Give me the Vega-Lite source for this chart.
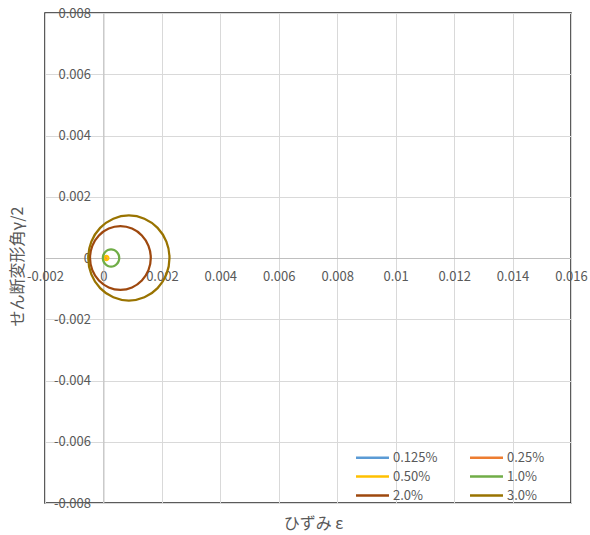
{
  "$schema": "https://vega.github.io/schema/vega-lite/v6.json",
  "width": 526,
  "height": 490,
  "autosize": "none",
  "padding": {"left": 45, "top": 13, "right": 19, "bottom": 32},
  "background": "white",
  "config": {
    "view": {"stroke": "#262626", "strokeWidth": 1.5},
    "font": "Noto Sans CJK JP"
  },
  "data": {"values": [
    {"s":"0.125%","k":0,"x":0.00004,"y":0},
    {"s":"0.125%","k":1,"x":0.000036,"y":0.000011},
    {"s":"0.125%","k":2,"x":0.000025,"y":0.000015},
    {"s":"0.125%","k":3,"x":0.000014,"y":0.000011},
    {"s":"0.125%","k":4,"x":0.00001,"y":0},
    {"s":"0.125%","k":5,"x":0.000014,"y":-0.000011},
    {"s":"0.125%","k":6,"x":0.000025,"y":-0.000015},
    {"s":"0.125%","k":7,"x":0.000036,"y":-0.000011},
    {"s":"0.25%","k":0,"x":0.00008,"y":0},
    {"s":"0.25%","k":1,"x":0.000071,"y":0.000021},
    {"s":"0.25%","k":2,"x":0.00005,"y":0.00003},
    {"s":"0.25%","k":3,"x":0.000029,"y":0.000021},
    {"s":"0.25%","k":4,"x":0.00002,"y":0},
    {"s":"0.25%","k":5,"x":0.000029,"y":-0.000021},
    {"s":"0.25%","k":6,"x":0.00005,"y":-0.00003},
    {"s":"0.25%","k":7,"x":0.000071,"y":-0.000021},
    {"s":"0.50%","k":0,"x":0.00017,"y":0},
    {"s":"0.50%","k":1,"x":0.000149,"y":0.000049},
    {"s":"0.50%","k":2,"x":0.0001,"y":0.00007},
    {"s":"0.50%","k":3,"x":0.000051,"y":0.000049},
    {"s":"0.50%","k":4,"x":0.00003,"y":0},
    {"s":"0.50%","k":5,"x":0.000051,"y":-0.000049},
    {"s":"0.50%","k":6,"x":0.0001,"y":-0.00007},
    {"s":"0.50%","k":7,"x":0.000149,"y":-0.000049},
    {"s":"1.0%","k":0,"x":0.00054,"y":0},
    {"s":"1.0%","k":1,"x":0.000519,"y":0.000107},
    {"s":"1.0%","k":2,"x":0.000458,"y":0.000198},
    {"s":"1.0%","k":3,"x":0.000367,"y":0.000259},
    {"s":"1.0%","k":4,"x":0.00026,"y":0.00028},
    {"s":"1.0%","k":5,"x":0.000153,"y":0.000259},
    {"s":"1.0%","k":6,"x":0.000062,"y":0.000198},
    {"s":"1.0%","k":7,"x":0.000001,"y":0.000107},
    {"s":"1.0%","k":8,"x":-0.00002,"y":0},
    {"s":"1.0%","k":9,"x":0.000001,"y":-0.000107},
    {"s":"1.0%","k":10,"x":0.000062,"y":-0.000198},
    {"s":"1.0%","k":11,"x":0.000153,"y":-0.000259},
    {"s":"1.0%","k":12,"x":0.00026,"y":-0.00028},
    {"s":"1.0%","k":13,"x":0.000367,"y":-0.000259},
    {"s":"1.0%","k":14,"x":0.000458,"y":-0.000198},
    {"s":"1.0%","k":15,"x":0.000519,"y":-0.000107},
    {"s":"2.0%","k":0,"x":0.00162,"y":0},
    {"s":"2.0%","k":1,"x":0.001541,"y":0.000398},
    {"s":"2.0%","k":2,"x":0.001315,"y":0.000735},
    {"s":"2.0%","k":3,"x":0.000978,"y":0.000961},
    {"s":"2.0%","k":4,"x":0.00058,"y":0.00104},
    {"s":"2.0%","k":5,"x":0.000182,"y":0.000961},
    {"s":"2.0%","k":6,"x":-0.000155,"y":0.000735},
    {"s":"2.0%","k":7,"x":-0.000381,"y":0.000398},
    {"s":"2.0%","k":8,"x":-0.00046,"y":0},
    {"s":"2.0%","k":9,"x":-0.000381,"y":-0.000398},
    {"s":"2.0%","k":10,"x":-0.000155,"y":-0.000735},
    {"s":"2.0%","k":11,"x":0.000182,"y":-0.000961},
    {"s":"2.0%","k":12,"x":0.00058,"y":-0.00104},
    {"s":"2.0%","k":13,"x":0.000978,"y":-0.000961},
    {"s":"2.0%","k":14,"x":0.001315,"y":-0.000735},
    {"s":"2.0%","k":15,"x":0.001541,"y":-0.000398},
    {"s":"3.0%","k":0,"x":0.00226,"y":0},
    {"s":"3.0%","k":1,"x":0.002154,"y":0.000532},
    {"s":"3.0%","k":2,"x":0.001853,"y":0.000983},
    {"s":"3.0%","k":3,"x":0.001402,"y":0.001284},
    {"s":"3.0%","k":4,"x":0.00087,"y":0.00139},
    {"s":"3.0%","k":5,"x":0.000338,"y":0.001284},
    {"s":"3.0%","k":6,"x":-0.000113,"y":0.000983},
    {"s":"3.0%","k":7,"x":-0.000414,"y":0.000532},
    {"s":"3.0%","k":8,"x":-0.00052,"y":0},
    {"s":"3.0%","k":9,"x":-0.000414,"y":-0.000532},
    {"s":"3.0%","k":10,"x":-0.000113,"y":-0.000983},
    {"s":"3.0%","k":11,"x":0.000338,"y":-0.001284},
    {"s":"3.0%","k":12,"x":0.00087,"y":-0.00139},
    {"s":"3.0%","k":13,"x":0.001402,"y":-0.001284},
    {"s":"3.0%","k":14,"x":0.001853,"y":-0.000983},
    {"s":"3.0%","k":15,"x":0.002154,"y":-0.000532}
  ]},
  "mark": {"type": "line", "interpolate": "cardinal-closed", "strokeWidth": 2.25, "clip": true},
  "encoding": {
    "x": {
      "field": "x", "type": "quantitative",
      "scale": {"domain": [-0.002, 0.016], "nice": false, "zero": false},
      "axis": {
        "values": [-0.002, 0, 0.002, 0.004, 0.006, 0.008, 0.01, 0.012, 0.014, 0.016],
        "labelExpr": "'' + datum.value",
        "offset": -245,
        "ticks": false,
        "domainColor": "#bfbfbf",
        "domainWidth": 1,
        "gridColor": "#d9d9d9",
        "gridWidth": 1,
        "labelColor": "#595959",
        "labelFontSize": 13,
        "labelPadding": 12,
        "labelOverlap": false,
        "labelFlush": false,
        "title": "ひずみ ε",
        "titleColor": "#595959",
        "titleFontSize": 16,
        "titleFontWeight": "normal",
        "titleX": 268,
        "titleY": 265,
        "titleBaseline": "middle",
        "titleAlign": "center"
      }
    },
    "y": {
      "field": "y", "type": "quantitative",
      "scale": {"domain": [-0.008, 0.008], "nice": false, "zero": false},
      "axis": {
        "values": [-0.008, -0.006, -0.004, -0.002, 0, 0.002, 0.004, 0.006, 0.008],
        "labelExpr": "'' + datum.value",
        "offset": -58.44,
        "ticks": false,
        "domainColor": "#bfbfbf",
        "domainWidth": 1,
        "gridColor": "#d9d9d9",
        "gridWidth": 1,
        "labelColor": "#595959",
        "labelFontSize": 13,
        "labelPadding": 13,
        "labelOverlap": false,
        "labelFlush": false,
        "title": "せん断変形角γ/2",
        "titleColor": "#595959",
        "titleFontSize": 16,
        "titleFontWeight": "normal",
        "titleX": -86,
        "titleY": 253,
        "titleBaseline": "middle",
        "titleAlign": "center",
        "titleAngle": -90
      }
    },
    "color": {
      "field": "s", "type": "nominal",
      "scale": {
        "domain": ["0.125%", "0.25%", "0.50%", "1.0%", "2.0%", "3.0%"],
        "range": ["#5B9BD5", "#ED7D31", "#FFC000", "#70AD47", "#9E480E", "#997300"]
      },
      "legend": {
        "title": null,
        "orient": "none",
        "direction": "horizontal",
        "legendX": 318,
        "legendY": 435,
        "columns": 2,
        "columnPadding": 27,
        "rowPadding": 2,
        "padding": 0,
        "symbolType": "M-2,0H2",
        "symbolSize": 272,
        "symbolStrokeWidth": 2.5,
        "labelOffset": 11,
        "labelFontSize": 13,
        "labelColor": "#595959"
      }
    },
    "order": {"field": "k", "type": "quantitative"}
  }
}
